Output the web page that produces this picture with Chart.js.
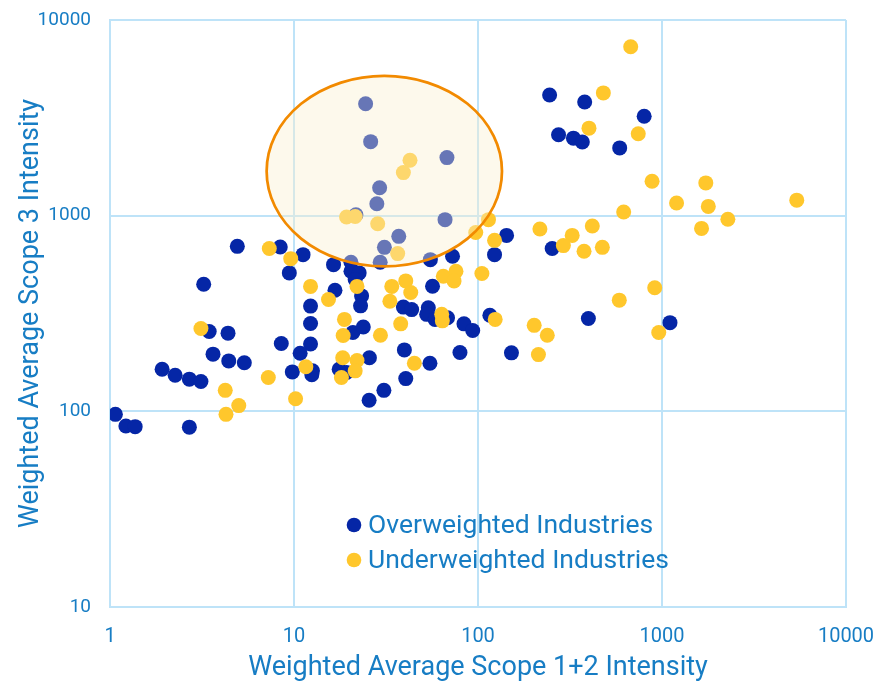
<!DOCTYPE html>
<html>
<head>
<meta charset="utf-8">
<script src="https://cdn.jsdelivr.net/npm/chart.js@4.4.1/dist/chart.umd.min.js"></script>
<style>
  html, body { margin: 0; padding: 0; background: #ffffff; }
  #wrap { width: 876px; height: 682px; }
</style>
</head>
<body>
<div id="wrap"><canvas id="c" width="876" height="682"></canvas></div>
<script>
// Scope 1+2 (x) and Scope 3 (y) weighted average intensities per industry
const overweightedX = [245, 380, 800, 274, 330, 369, 589, 24.5, 26.1, 67.8, 29.2, 28.2, 21.7, 66.2, 37.1, 31, 55.1, 29.4, 20.4, 16.4, 72.7, 123, 143, 253, 4.92, 8.42, 11.2, 9.43, 3.23, 20.4, 22.6, 21.5, 16.7, 23.3, 23.0, 12.3, 12.3, 56.6, 39.3, 43.6, 53.7, 52.6, 58.4, 68.3, 83.9, 93.6, 116, 398, 1105, 20.9, 23.8, 3.46, 4.38, 8.53, 12.3, 39.8, 79.8, 152, 54.8, 25.7, 17.6, 19.3, 40.5, 30.8, 25.6, 3.63, 4.42, 5.37, 10.8, 1.92, 2.26, 2.70, 3.12, 9.79, 12.6, 12.5, 1.07, 1.22, 1.37, 2.70];
const overweightedY = [4140, 3810, 3220, 2590, 2490, 2380, 2220, 3730, 2390, 1980, 1390, 1150, 1010, 954, 784, 689, 596, 578, 578, 562, 620, 632, 793, 679, 697, 692, 632, 510, 446, 520, 510, 472, 416, 389, 346, 345, 281, 436, 341, 331, 338, 313, 295, 301, 280, 259, 310, 298, 284, 253, 270, 256, 251, 222, 221, 206, 200, 199, 176, 188, 164, 158, 147, 128, 114, 196, 181, 177, 198, 164, 153, 146, 142, 159, 161, 154, 96.5, 84.1, 83.5, 83];

const underweightedX = [676, 480, 401, 743, 883, 1730, 1200, 1785, 2280, 1640, 5400, 619, 42.7, 39.3, 19.3, 21.5, 28.5, 36.6, 114, 97.2, 123, 217, 325, 418, 291, 377, 474, 105, 64.8, 75.9, 74.1, 34, 40.5, 43.1, 33.2, 38, 63.5, 64, 124, 202, 238, 213, 45.1, 29.5, 586, 913, 960, 7.34, 9.6, 12.3, 15.4, 22, 18.8, 18.5, 3.12, 18.4, 22, 21.5, 18.1, 11.6, 7.25, 4.23, 5.01, 4.27, 10.2];
const underweightedY = [7300, 4240, 2800, 2620, 1500, 1470, 1160, 1115, 958, 861, 1200, 1044, 1920, 1660, 985, 990, 910, 640, 954, 820, 748, 855, 793, 886, 703, 658, 689, 506, 490, 520, 464, 435, 464, 405, 365, 280, 313, 290, 295, 275, 245, 195, 176, 245, 370, 428, 253, 679, 603, 435, 373, 435, 295, 244, 265, 188, 182, 161, 149, 169, 149, 128, 107, 96.5, 116];

const seriesNames = ['Overweighted Industries', 'Underweighted Industries'];
const xTickValues = [1, 10, 100, 1000, 10000];
const yTickValues = [10, 100, 1000, 10000];
const xTitle = 'Weighted Average Scope 1+2 Intensity';
const yTitle = 'Weighted Average Scope 3 Intensity';

// Highlighted cluster, given as its data-space bounds
const highlightX = [7.1, 135];
const highlightY = [550, 5180];

const BLUE = '#0526A6';
const YELLOW = '#FFC72C';
const TEXT = '#177DC4';
const GRID = '#BEE3F8';
const FONT = 'Roboto, "Open Sans", sans-serif';

const toPoints = (xs, ys) => xs.map((x, i) => ({ x: x, y: ys[i] }));

// Let the layout padding alone decide the plot margins
const clearTickOverflow = (s) => {
  s.paddingTop = 0;
  s.paddingBottom = 0;
  s.paddingLeft = 0;
  s.paddingRight = 0;
};

// Soft ellipse drawn over the markers
const highlightPlugin = {
  id: 'highlight',
  afterDatasetsDraw(chart) {
    const { ctx, scales: { x, y } } = chart;
    const x0 = x.getPixelForValue(highlightX[0]);
    const x1 = x.getPixelForValue(highlightX[1]);
    const y0 = y.getPixelForValue(highlightY[0]);
    const y1 = y.getPixelForValue(highlightY[1]);
    ctx.save();
    ctx.beginPath();
    ctx.ellipse((x0 + x1) / 2, (y0 + y1) / 2, Math.abs(x1 - x0) / 2, Math.abs(y1 - y0) / 2, 0, 0, Math.PI * 2);
    ctx.fillStyle = 'rgba(250, 240, 207, 0.4)';
    ctx.fill();
    ctx.lineWidth = 2.75;
    ctx.strokeStyle = '#F28A00';
    ctx.stroke();
    ctx.restore();
  }
};

// Legend placed inside the plot area, lower middle
const insideLegend = {
  id: 'insideLegend',
  afterDraw(chart) {
    const { ctx, chartArea } = chart;
    const left = chartArea.left + 244;
    const top = chartArea.bottom - 82;
    ctx.save();
    ctx.font = '26.5px ' + FONT;
    ctx.textBaseline = 'middle';
    ctx.textAlign = 'left';
    chart.data.datasets.forEach((ds, i) => {
      const cy = top + i * 35;
      ctx.beginPath();
      ctx.arc(left, cy, 7.3, 0, Math.PI * 2);
      ctx.fillStyle = ds.backgroundColor;
      ctx.fill();
      ctx.fillStyle = TEXT;
      ctx.fillText(ds.label, left + 14, cy + 1);
    });
    ctx.restore();
  }
};

new Chart(document.getElementById('c'), {
  type: 'scatter',
  data: {
    datasets: [
      {
        label: seriesNames[0],
        data: toPoints(overweightedX, overweightedY),
        backgroundColor: BLUE,
        pointRadius: 7.5,
        pointHoverRadius: 7.5,
        pointBorderWidth: 0,
        order: 2
      },
      {
        label: seriesNames[1],
        data: toPoints(underweightedX, underweightedY),
        backgroundColor: YELLOW,
        pointRadius: 7.5,
        pointHoverRadius: 7.5,
        pointBorderWidth: 0,
        order: 1
      }
    ]
  },
  options: {
    responsive: false,
    animation: false,
    events: [],
    layout: { autoPadding: false, padding: { top: 20, right: 30, left: 0, bottom: 0 } },
    plugins: {
      legend: { display: false },
      tooltip: { enabled: false }
    },
    scales: {
      x: {
        type: 'logarithmic',
        min: 1,
        max: 10000,
        afterBuildTicks: (s) => { s.ticks = xTickValues.map(v => ({ value: v })); },
        afterFit: (s) => { s.height = 75; clearTickOverflow(s); },
        ticks: {
          autoSkip: false,
          maxRotation: 0,
          padding: 18,
          color: TEXT,
          font: { family: FONT, size: 20 },
          callback: (v) => String(v)
        },
        grid: { color: GRID, lineWidth: 2, drawTicks: false },
        border: { display: true, color: GRID, width: 2 },
        title: {
          display: true,
          text: xTitle,
          color: TEXT,
          font: { family: FONT, size: 27, lineHeight: 1.05 },
          padding: { top: 0, bottom: 0 }
        }
      },
      y: {
        type: 'logarithmic',
        min: 10,
        max: 10000,
        afterBuildTicks: (s) => { s.ticks = yTickValues.map(v => ({ value: v })); },
        afterFit: (s) => { s.width = 110; clearTickOverflow(s); },
        ticks: {
          autoSkip: false,
          padding: 19,
          color: TEXT,
          font: { family: FONT, size: 19 },
          callback: (v) => String(v)
        },
        grid: { color: GRID, lineWidth: 2, drawTicks: false },
        border: { display: true, color: GRID, width: 2 },
        title: {
          display: true,
          text: yTitle,
          color: TEXT,
          font: { family: FONT, size: 27 },
          padding: { top: 15, bottom: 0 }
        }
      }
    }
  },
  plugins: [highlightPlugin, insideLegend]
});
</script>
</body>
</html>
